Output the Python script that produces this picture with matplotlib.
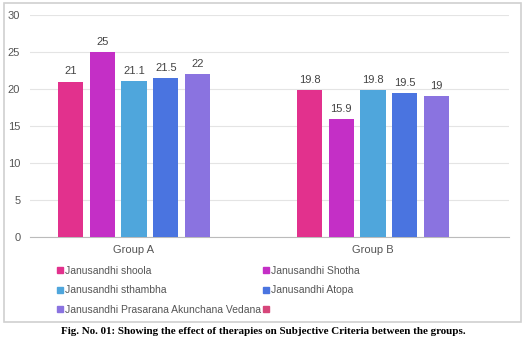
import matplotlib
matplotlib.use('Agg')
import matplotlib.pyplot as plt
from matplotlib.lines import Line2D
from matplotlib.patches import Rectangle
import numpy as np

plt.rcParams['font.family'] = ['Liberation Sans', 'DejaVu Sans']

groups = ['Group A', 'Group B']
series = ['Janusandhi shoola', 'Janusandhi Shotha', 'Janusandhi sthambha',
          'Janusandhi Atopa', 'Janusandhi Prasarana Akunchana Vedana']
values = [
    [21, 19.8],
    [25, 15.9],
    [21.1, 19.8],
    [21.5, 19.5],
    [22, 19],
]
value_labels = [
    ['21', '19.8'],
    ['25', '15.9'],
    ['21.1', '19.8'],
    ['21.5', '19.5'],
    ['22', '19'],
]
colors = ['#e2318d', '#c42fc6', '#4fa6dc', '#4a74e0', '#8a73e0']
extra_color = '#d6467a'
yticks = [0, 5, 10, 15, 20, 25, 30]

fig = plt.figure(figsize=(5.26, 3.41), dpi=100)
fig.patches.append(Rectangle((4 / 526, 1 - 322 / 341), 517 / 526, 319 / 341,
                             transform=fig.transFigure, fill=False,
                             edgecolor='#d0d0d0', linewidth=1.2))

ax = fig.add_axes([30 / 526, 1 - 237 / 341, 479 / 526, 222 / 341])
x = np.arange(len(groups))
width = 0.105
step = 0.133
for i, (name, vals) in enumerate(zip(series, values)):
    pos = x + (i - 2) * step
    ax.bar(pos, vals, width, color=colors[i], zorder=3)
    for p, v, lab in zip(pos, vals, value_labels[i]):
        ax.text(p, v + 0.7, lab, ha='center', va='bottom', fontsize=8, color='#444444')

ax.set_xlim(-0.435, 1.569)
ax.set_ylim(0, 30)
ax.set_yticks(yticks)
ax.set_xticks(x)
ax.set_xticklabels(groups)
ax.tick_params(axis='both', length=0, labelsize=8, colors='#555555')
ax.tick_params(axis='y', pad=7)
ax.tick_params(axis='x', pad=6)
ax.grid(axis='y', color='#e4e4e4', linewidth=0.8, zorder=0)
for s in ['top', 'right', 'left']:
    ax.spines[s].set_visible(False)
ax.spines['bottom'].set_color('#bbbbbb')
ax.spines['bottom'].set_linewidth(0.8)

def sq(c):
    return Line2D([], [], marker='s', linestyle='none', markersize=4,
                  markerfacecolor=c, markeredgecolor=c)

handles = [sq(colors[0]), sq(colors[2]), sq(colors[4]),
           sq(colors[1]), sq(colors[3]), sq(extra_color)]
labels = [series[0], series[2], series[4], series[1], series[3], '']
fig.legend(handles, labels, loc='upper left', bbox_to_anchor=(57 / 526, 1 - 266 / 341),
           ncol=2, frameon=False, fontsize=7.5, labelcolor='#555555',
           handlelength=0.6, handletextpad=0.2, columnspacing=0.1,
           labelspacing=0.9, borderpad=0, borderaxespad=0)

fig.text(0.5, 1 - 331 / 341,
         'Fig. No. 01: Showing the effect of therapies on Subjective Criteria between the groups.',
         ha='center', va='center', fontsize=7.9, fontweight='bold',
         family=['Liberation Serif', 'DejaVu Serif'])

fig.savefig('out.png', dpi=100)
